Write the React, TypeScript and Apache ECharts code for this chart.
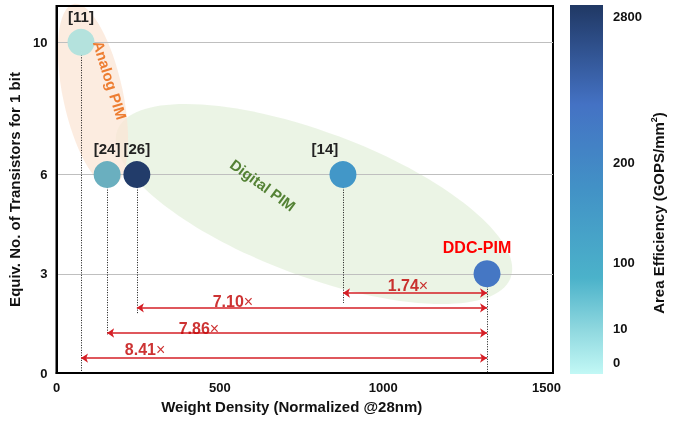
import React, { useEffect, useRef } from 'react';
import * as echarts from 'echarts';

// ---- data ----
const refs = ['[11]', '[24]', '[26]', '[14]', 'DDC-PIM'];
const weightDensity = [75, 155, 246, 877, 1318];
const transistors = [10, 6, 6, 6, 3];
const pointColors = ['#B4E2DD', '#6AAFBF', '#223C6A', '#4297C8', '#4577C4'];
const dropEnds = [0, 1.15, 1.81, 2.12, 0];
const xTicks = [0, 500, 1000, 1500];
const yTicks = [0, 3, 6, 10];
const ratioLabels = ['8.41', '7.86', '7.10', '1.74'];
const ratioFromIdx = [0, 1, 2, 3];
const ratioLevels = [0.45, 1.21, 1.97, 2.42];
const ratioLabelX = [271, 436, 540, 1076];
const ratioLabelY = [0.7, 1.36, 2.15, 2.66];
const cbTicks = ['2800', '200', '100', '10', '0'];
const cbTickPos = [0.03, 0.428, 0.699, 0.878, 0.97];
const cbStops = [
  { offset: 0, color: '#203864' },
  { offset: 0.27, color: '#4472C4' },
  { offset: 0.5, color: '#4292C6' },
  { offset: 0.74, color: '#4BB2CA' },
  { offset: 0.88, color: '#8FD8DF' },
  { offset: 1, color: '#C2F8F5' },
];

const FONT = 'Liberation Sans, Arial, sans-serif';

export default function App() {
  const ref = useRef<HTMLDivElement>(null);
  useEffect(() => {
    document.body.style.margin = '0';
    const chart = echarts.init(ref.current!, null, { renderer: 'svg' });
    const ddc = weightDensity.length - 1;
    const cb = { x: 570, y: 5, w: 33, h: 369 };
    chart.setOption({
      animation: false,
      grid: {
        left: 56.5, right: 136, top: 6, bottom: 49,
        show: true, borderColor: '#000', borderWidth: 2,
        containLabel: false, outerBoundsMode: 'none',
      },
      xAxis: {
        type: 'value', min: 0, max: 1520,
        axisLine: { lineStyle: { color: '#000', width: 2 } },
        axisTick: { show: false, customValues: xTicks },
        splitLine: { show: false },
        axisLabel: {
          customValues: xTicks, margin: 8,
          formatter: (v: number) => String(v),
          color: '#111', fontFamily: FONT, fontWeight: 'bold', fontSize: 13,
        },
        name: 'Weight Density (Normalized @28nm)',
        nameLocation: 'middle', nameGap: 20,
        nameTextStyle: { color: '#111', fontFamily: FONT, fontWeight: 'bold', fontSize: 15, padding: [0, 26, 0, 0] },
      },
      yAxis: {
        type: 'value', min: 0, max: 11.1,
        axisLine: { show: true, lineStyle: { color: '#000', width: 2 } },
        axisTick: { show: false, customValues: yTicks },
        splitLine: { show: true, lineStyle: { color: '#BFBFBF', width: 1 } },
        axisLabel: {
          customValues: yTicks, margin: 9,
          formatter: (v: number) => String(v),
          color: '#111', fontFamily: FONT, fontWeight: 'bold', fontSize: 13,
        },
        name: 'Equiv. No. of Transistors for 1 bit',
        nameLocation: 'middle', nameGap: 28,
        nameTextStyle: { color: '#111', fontFamily: FONT, fontWeight: 'bold', fontSize: 15 },
      },
      graphic: [
        {
          type: 'ellipse', x: 314, y: 204, rotation: -0.36, z: -10, silent: true,
          shape: { cx: 0, cy: 0, rx: 210, ry: 72 },
          style: { fill: '#E2EFDA', opacity: 0.7 },
        },
        {
          type: 'ellipse', x: 93, y: 95, rotation: 0.21, z: -9, silent: true,
          shape: { cx: 0, cy: 0, rx: 30, ry: 93 },
          style: { fill: '#FBE5D6', opacity: 0.75 },
        },
        {
          type: 'text', x: 110, y: 80, rotation: -1.27, z: 20,
          style: { text: 'Analog PIM', fill: '#ED7D31', font: `bold 15px ${FONT}`, align: 'center', verticalAlign: 'middle' },
        },
        {
          type: 'text', x: 263, y: 185, rotation: -0.63, z: 20,
          style: { text: 'Digital PIM', fill: '#548235', font: `bold 15px ${FONT}`, align: 'center', verticalAlign: 'middle' },
        },
        {
          type: 'rect', z: 5,
          shape: { x: cb.x, y: cb.y, width: cb.w, height: cb.h },
          style: {
            fill: new echarts.graphic.LinearGradient(0, 0, 0, 1, cbStops),
          },
        },
        ...cbTicks.map((t, i) => ({
          type: 'text', x: 613, y: cb.y + cbTickPos[i] * cb.h, z: 5,
          style: { text: t, fill: '#111', font: `bold 13px ${FONT}`, align: 'left', verticalAlign: 'middle' },
        })),
        {
          type: 'text', x: 658, y: 213, rotation: Math.PI / 2, z: 5,
          style: {
            text: '{t|Area Efficiency (GOPS/mm}{s|2}{t|)}',
            rich: {
              t: { font: `bold 15px ${FONT}`, fill: '#111' },
              s: { font: `bold 9px ${FONT}`, fill: '#111', verticalAlign: 'top', padding: [0, 0, 8, 0] },
            },
            align: 'center', verticalAlign: 'middle',
          },
        },
      ],
      series: [
        {
          type: 'lines', coordinateSystem: 'cartesian2d', silent: true, z: 1,
          symbol: ['none', 'none'],
          lineStyle: { color: '#111', type: [1, 1.5], width: 1, opacity: 1, curveness: 0 },
          data: weightDensity.map((x, i) => ({ coords: [[x, transistors[i]], [x, dropEnds[i]]] })),
        },
        {
          type: 'lines', coordinateSystem: 'cartesian2d', silent: true, z: 2,
          symbol: ['arrow', 'arrow'], symbolSize: 7,
          lineStyle: { color: '#D51F26', width: 1.5, opacity: 1, curveness: 0 },
          data: ratioLabels.map((_, i) => ({
            coords: [
              [weightDensity[ratioFromIdx[i]], ratioLevels[i]],
              [weightDensity[ddc], ratioLevels[i]],
            ],
          })),
        },
        {
          type: 'scatter', silent: true, z: 6,
          symbol: 'circle', symbolSize: 1,
          itemStyle: { color: 'rgba(0,0,0,0)' },
          data: ratioLabels.map((r, i) => ({ value: [ratioLabelX[i], ratioLabelY[i]], name: r })),
          label: {
            show: true, position: 'inside',
            fontFamily: FONT, fontWeight: 'bold', fontSize: 16, color: '#C00000',
            formatter: (p: any) => `{b|${p.name}}{x|×}`,
            rich: {
              b: { color: '#C00000', fontFamily: FONT, fontWeight: 'bold', fontSize: 16 },
              x: { color: '#C00000', fontFamily: FONT, fontWeight: 'normal', fontSize: 16 },
            },
          },
        },
        {
          type: 'scatter', z: 5, symbolSize: 27,
          data: refs.map((name, i) => ({
            name,
            value: [weightDensity[i], transistors[i]],
            itemStyle: { color: pointColors[i], opacity: 1 },
            label: i === ddc
              ? { color: '#FF0000', fontSize: 16, offset: [-10, 0] }
              : i === 3 ? { offset: [-18, 0] } : {},
          })),
          label: {
            show: true, position: 'top', distance: 5,
            formatter: (p: any) => p.name,
            color: '#222', fontFamily: FONT, fontWeight: 'bold', fontSize: 15,
          },
        },
      ],
    });
    return () => chart.dispose();
  }, []);
  return <div ref={ref} style={{ position: 'fixed', left: 0, top: 0, width: 689, height: 422 }} />;
}
